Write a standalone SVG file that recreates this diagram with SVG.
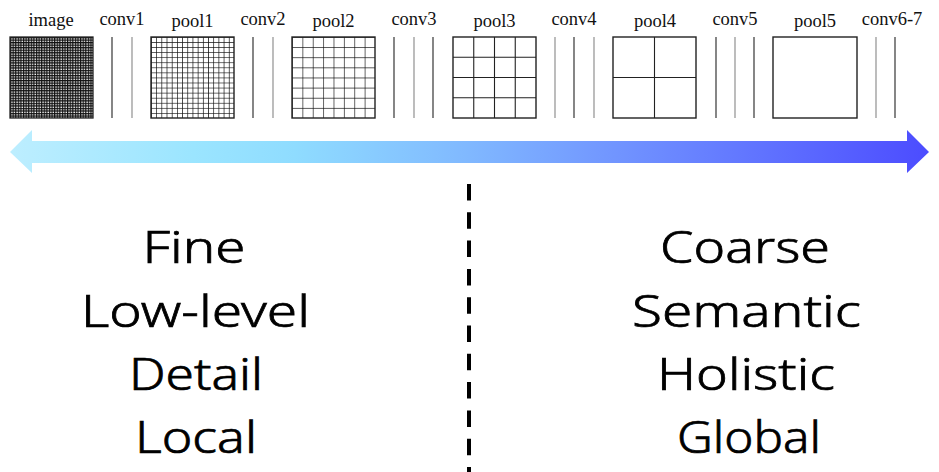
<svg xmlns="http://www.w3.org/2000/svg" width="939" height="472" viewBox="0 0 939 472">
<style>
.lbl{font-family:"Liberation Serif","Times New Roman",serif;font-size:18.5px;fill:#111;text-anchor:middle}
.big{font-family:"Noto Sans","Open Sans","DejaVu Sans",sans-serif;font-size:44px;font-weight:300;fill:#000;stroke:#000;stroke-width:0.7;text-anchor:middle}
.box{fill:#fff;stroke:#222;stroke-width:1.4}
.dk{stroke:#444;stroke-width:1.3}
.lt{stroke:#999;stroke-width:1.3}
.gl{fill:none;stroke:#222;stroke-width:1.1}
</style>
<defs>
<linearGradient id="grad" x1="10" y1="0" x2="929" y2="0" gradientUnits="userSpaceOnUse">
<stop offset="0" stop-color="#bdeeff"/>
<stop offset="0.2" stop-color="#9be5ff"/>
<stop offset="0.31" stop-color="#8fdcff"/>
<stop offset="0.5" stop-color="#80b8ff"/>
<stop offset="0.68" stop-color="#6f90ff"/>
<stop offset="1" stop-color="#4c4cff"/>
</linearGradient>
<pattern id="g32" patternUnits="userSpaceOnUse" x="10" y="37" width="2.594" height="2.531"><rect width="2.594" height="2.531" fill="#fff"/><path d="M0.6 0V2.531M0 0.6H2.594" stroke="#111" stroke-width="1.2"/></pattern>
<pattern id="g16" patternUnits="userSpaceOnUse" x="151" y="37" width="5.1875" height="5.0625"><path d="M0 0V5.0625M0 0H5.1875" stroke="#111" stroke-width="1.4" fill="none"/></pattern>
<pattern id="g8" patternUnits="userSpaceOnUse" x="292" y="37" width="10.375" height="10.125"><path d="M0 0V10.125M0 0H10.375" stroke="#111" stroke-width="1.3" fill="none"/></pattern>
</defs>

<g id="node-image">
<text class="lbl" x="51" y="26">image</text>
<rect x="10" y="37" width="83" height="81" fill="url(#g32)" stroke="#222" stroke-width="1.3"/>
</g>
<g id="node-conv1">
<text class="lbl" x="122" y="25">conv1</text>
<line class="dk" x1="112" y1="37" x2="112" y2="118"/>
<line class="lt" x1="132" y1="37" x2="132" y2="118"/>
</g>
<g id="node-pool1">
<text class="lbl" x="192.5" y="27">pool1</text>
<rect x="151" y="37" width="83" height="81" fill="#fff"/>
<rect x="151" y="37" width="83" height="81" class="box" style="fill:url(#g16)"/>
</g>
<g id="node-conv2">
<text class="lbl" x="263" y="25">conv2</text>
<line class="dk" x1="253" y1="37" x2="253" y2="118"/>
<line class="lt" x1="273" y1="37" x2="273" y2="118"/>
</g>
<g id="node-pool2">
<text class="lbl" x="333.5" y="27">pool2</text>
<rect x="292" y="37" width="83" height="81" fill="#fff"/>
<rect x="292" y="37" width="83" height="81" class="box" style="fill:url(#g8)"/>
</g>
<g id="node-conv3">
<text class="lbl" x="414" y="25">conv3</text>
<line class="dk" x1="394" y1="37" x2="394" y2="118"/>
<line class="lt" x1="414" y1="37" x2="414" y2="118"/>
<line class="dk" x1="433" y1="37" x2="433" y2="118"/>
</g>
<g id="node-pool3">
<text class="lbl" x="494.5" y="27">pool3</text>
<rect x="453" y="37" width="83" height="81" class="box"/>
<path class="gl" d="M473.75 37V118M494.5 37V118M515.25 37V118M453 57.25H536M453 77.5H536M453 97.75H536"/>
</g>
<g id="node-conv4">
<text class="lbl" x="574" y="25">conv4</text>
<line class="lt" x1="555" y1="37" x2="555" y2="118"/>
<line class="dk" x1="574" y1="37" x2="574" y2="118"/>
<line class="lt" x1="594" y1="37" x2="594" y2="118"/>
</g>
<g id="node-pool4">
<text class="lbl" x="655" y="27">pool4</text>
<rect x="613" y="37" width="83" height="81" class="box"/>
<path class="gl" d="M654.5 37V118M613 77.5H696"/>
</g>
<g id="node-conv5">
<text class="lbl" x="735" y="25">conv5</text>
<line class="dk" x1="716" y1="37" x2="716" y2="118"/>
<line class="lt" x1="735" y1="37" x2="735" y2="118"/>
<line class="dk" x1="754" y1="37" x2="754" y2="118"/>
</g>
<g id="node-pool5">
<text class="lbl" x="815" y="27">pool5</text>
<rect x="773" y="37" width="84" height="81" class="box"/>
</g>
<g id="node-conv67">
<text class="lbl" x="892" y="25">conv6-7</text>
<line class="lt" x1="876" y1="37" x2="876" y2="118"/>
<line class="dk" x1="895" y1="37" x2="895" y2="118"/>
</g>

<g id="connectors">
<polygon points="10,152 32,130 32,141 907,141 907,130 929,152 907,173 907,163 32,163 32,173" fill="url(#grad)"/>
<line x1="469" y1="184" x2="469" y2="472" stroke="#000" stroke-width="4" stroke-dasharray="16.5 11.8"/>
</g>

<g id="node-left">
<text class="big" x="194" y="263" textLength="103" lengthAdjust="spacingAndGlyphs">Fine</text>
<text class="big" x="195.5" y="327" textLength="229" lengthAdjust="spacingAndGlyphs">Low-level</text>
<text class="big" x="196" y="390" textLength="134" lengthAdjust="spacingAndGlyphs">Detail</text>
<text class="big" x="196" y="453" textLength="122" lengthAdjust="spacingAndGlyphs">Local</text>
</g>
<g id="node-right">
<text class="big" x="745" y="263" textLength="170" lengthAdjust="spacingAndGlyphs">Coarse</text>
<text class="big" x="746.5" y="327" textLength="229" lengthAdjust="spacingAndGlyphs">Semantic</text>
<text class="big" x="746" y="390" textLength="178" lengthAdjust="spacingAndGlyphs">Holistic</text>
<text class="big" x="749" y="453" textLength="144" lengthAdjust="spacingAndGlyphs">Global</text>
</g>
</svg>
